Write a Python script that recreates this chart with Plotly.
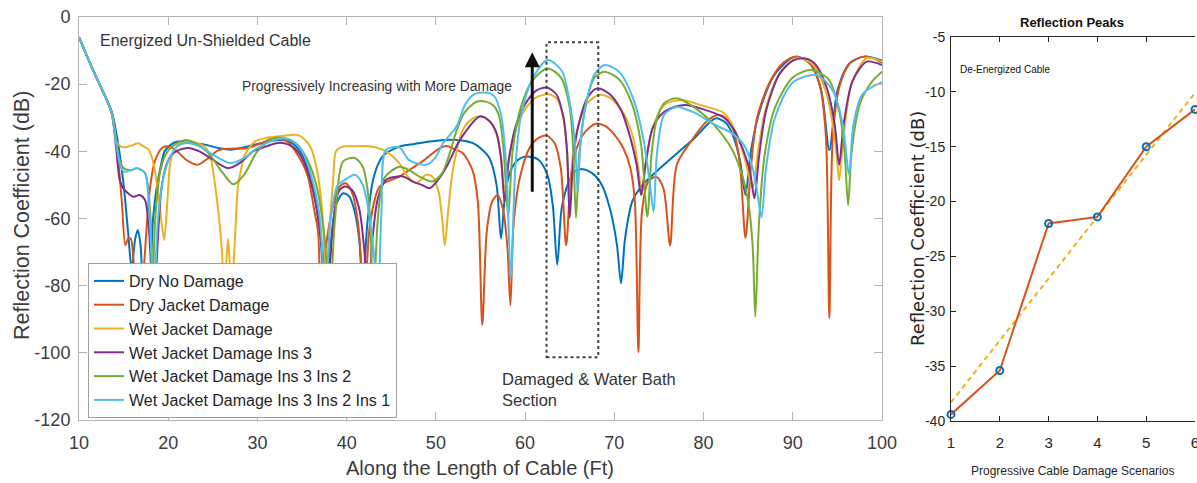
import plotly.graph_objects as go

# ---------------- Reflection coefficient along the cable (dB) ----------------
dry_no_damage_x = [10, 11, 12, 13, 13.7, 14.4, 15, 15.5, 15.9, 16.3, 16.6, 16.9, 17.3, 17.8, 18.3, 18.7,
                   19.2, 19.6, 20.3, 21.1, 22.5, 24.1, 25.6, 27, 28.2, 30.5, 32.3, 33.5, 34.5, 35.5, 36.3,
                   37, 37.6, 38.2, 38.8, 39.6, 40.3, 40.9, 41.4, 41.8, 42.3, 43, 44, 45.9, 47.6, 49.6,
                   52.3, 54.1, 55.2, 56, 56.8, 57.3, 57.8, 58.5, 59.5, 60.5, 61.5, 62.5, 63.1, 63.6, 64.1,
                   64.9, 65.6, 66.4, 67.5, 68.6, 69.6, 70.3, 70.75, 71.2, 72, 73, 76.2, 79, 81.3, 82.5,
                   83.4, 84.1, 84.7, 85.3, 86.4, 88, 90.3, 92, 93.2, 94.1, 95, 96.3, 98, 100]
dry_no_damage_y = [-6, -12.3, -18.3, -24, -28.5, -38, -50, -64, -75, -66, -63.4, -68, -82, -80, -60, -51,
                   -44, -40, -38, -37.1, -37.5, -38, -39, -39.5, -39, -37.5, -36.6, -37, -39, -44, -52,
                   -64, -82, -68, -56, -52.5, -53.5, -58, -66, -82, -62, -48, -41.6, -38.6, -37.8, -37,
                   -36.6, -37.5, -39.5, -42, -50, -66, -52, -45, -42, -41.6, -42.5, -47, -56, -73.8, -57,
                   -49, -46, -45.3, -46.5, -50, -58, -68, -79.3, -66, -55, -50.5, -42.5, -36, -30.2, -31.5,
                   -36, -43, -53, -40, -27, -17, -11.8, -14, -22, -39.6, -22, -14, -11.8, -13]

dry_jacket_x = [10, 11, 12, 13, 13.7, 14.3, 14.8, 15.2, 15.5, 15.8, 16.1, 16.6, 17.1, 17.6, 18, 18.5,
                19.3, 20, 21, 22, 23.3, 24.5, 25.6, 27, 28.9, 30.5, 31.9, 33.4, 34.5, 35.6, 36.4, 36.8,
                37.1, 37.6, 38.4, 39.2, 39.9, 40.7, 41.3, 42, 42.6, 43.7, 45.9, 47, 48.5, 50.4, 51.2,
                52.2, 53, 54.1, 54.7, 55.2, 55.7, 56.3, 56.9, 57.5, 58, 58.35, 58.7, 59.4, 60.5, 61.5,
                62.4, 63.3, 64, 64.6, 65.2, 66, 66.8, 68, 69, 70, 71, 71.8, 72.3, 72.7, 73.1, 73.8,
                74.7, 75.5, 76.25, 77, 78.6, 80.4, 81.5, 82.3, 83.1, 84, 84.7, 85.3, 86, 87.5, 89,
                90.3, 91.8, 93, 93.7, 94.1, 94.5, 95.3, 96.5, 98, 99, 100]
dry_jacket_y = [-6, -12.3, -18.3, -24, -28.5, -40, -55, -68, -66, -66, -72, -88, -80, -62, -50, -43,
                -39, -38.5, -40, -42.5, -44, -42, -39.7, -39.2, -39, -37.5, -36, -37.2, -41, -47, -58, -64,
                -85, -70, -57, -50.5, -49.5, -53, -62, -85, -62, -50.5, -47.5, -45.6, -43, -39.1, -38.4,
                -39.5, -40.5, -45.6, -55, -91.7, -64, -55, -53, -57, -68, -85.8, -62, -48, -39, -36,
                -35.3, -37.5, -45, -68, -46, -37.5, -34, -31.7, -32.5, -35, -39, -45, -55, -99.8, -58, -49,
                -47.6, -51, -68, -44, -37, -31, -29.2, -29.7, -32, -42, -65.8, -45, -30, -19, -13.5,
                -11.8, -13.5, -20, -35, -89.6, -35, -20, -13.5, -11.8, -12.3, -13.7]

wet_jacket_x = [10, 11, 12, 13, 13.7, 14.2, 14.7, 15.15, 16, 16.6, 17.2, 17.8, 18.3, 18.7, 19.2, 19.55,
                19.9, 20.2, 20.6, 21.1, 22.2, 23.2, 24.1, 24.7, 25.2, 25.7, 26, 26.3, 26.7, 27.1, 27.5,
                27.8, 28.2, 28.6, 29.7, 31, 32.5, 33.5, 34.5, 35.3, 36, 36.7, 37.3, 37.7, 38.1, 38.5,
                38.8, 39.5, 40.5, 42.2, 43.2, 44.4, 45.9, 46.7, 47.8, 48.9, 49.6, 50.3, 50.7, 51.0,
                51.4, 51.9, 53, 54, 55, 56, 56.8, 57.3, 57.7, 58.2, 59, 60, 61.2, 62.6, 63.6, 64.3,
                64.7, 65, 65.4, 66, 67, 68.3, 69.5, 71, 72, 72.7, 73.1, 73.5, 74.3, 75.6, 77.5, 80,
                82.3, 83.4, 84.5, 85.5, 86.1, 87, 88.5, 90.5, 92.2, 93.8, 94.8, 95.2, 95.6, 96.6, 98.3, 100]
wet_jacket_y = [-6, -12.3, -18.3, -24, -29, -37.1, -38.6, -38.8, -38.2, -37.6, -38.5, -39.5, -43, -49, -60, -66.4,
                -55, -44, -40, -38.1, -37.1, -37.5, -38.6, -41.5, -49, -60, -69, -82, -66, -82, -65,
                -51, -45, -41, -37.1, -36, -35.5, -35.2, -35.1, -36.5, -39, -46, -59, -82, -62, -48,
                -40, -38.6, -38.5, -38.4, -38.8, -40, -43.5, -47, -49.5, -47, -47.5, -52, -60, -68,
                -57, -45.6, -33.7, -30.5, -29.5, -31, -35, -42, -52, -42, -33, -27.5, -24, -23, -24.5, -30,
                -40, -55, -40, -32, -25.5, -23.2, -24, -28.5, -35, -45, -53, -44, -33, -26.2, -24.7, -26.5,
                -28.6, -33, -41, -51, -40, -27, -17, -12.2, -14, -23, -38, -48.6, -38, -20, -12.2, -13.3]

wet_ins3_x = [10, 11, 12, 13, 13.7, 14.2, 14.6, 15.1, 16.1, 16.8, 17.4, 17.8, 18.1, 18.4, 18.8, 19.2,
              19.8, 20.4, 21.3, 22.2, 23.5, 25, 26.7, 28, 29.5, 30.5, 32.3, 33.5, 34.5, 35.5, 36.5,
              37.2, 37.8, 38.4, 39.1, 39.8, 40.6, 41.4, 42, 42.4, 42.9, 43.5, 44.4, 46.3, 47.4, 48.4,
              49.3, 50.1, 51.2, 52.7, 54.9, 56, 56.8, 57.3, 57.7, 58.2, 59, 60, 61.2, 62.4, 63.5, 64.3,
              64.7, 65, 65.4, 66, 67, 68.1, 69.5, 70.8, 71.8, 72.5, 73, 73.5, 74.3, 75.6, 77.8, 80,
              82.3, 83.5, 84.5, 85.2, 85.7, 86.2, 87, 88.5, 90, 91.3, 92.5, 93.8, 94.7, 95.2, 95.7,
              96.7, 98.3, 100]
wet_ins3_y = [-6, -12.3, -18.3, -24, -29, -40, -49, -51.5, -53.5, -53, -54.5, -62, -75, -85, -68, -52,
              -44, -41, -39.5, -39, -40, -42.5, -45, -43.5, -40, -39, -37.5, -38, -40, -45, -55,
              -68, -85, -64, -52, -50.5, -51.5, -57, -70, -85, -66, -54, -48.5, -47.5, -49, -50,
              -51, -49, -44.6, -36.6, -29.7, -31, -34.6, -42, -55, -42, -32, -26, -22, -21, -23, -30,
              -40, -59.8, -42, -32, -24, -21.2, -23, -28, -36, -44, -53, -44, -33, -28.2, -26.2, -27.5,
              -30, -34, -40, -46, -54, -42, -28, -17, -13, -12.3, -14, -21, -32, -44, -32,
              -19, -13.3, -14.3]

wet_ins32_x = [10, 11, 12, 13, 13.7, 14.2, 14.6, 15, 15.9, 16.5, 17.4, 17.7, 18, 18.25, 18.5, 18.8,
               19.1, 19.7, 20.4, 21.9, 23, 24.5, 26, 27.3, 28.5, 30, 31.9, 33.5, 34.5, 35.5, 36.6,
               37.5, 38.1, 38.7, 39.6, 40.9, 41.8, 42.5, 43, 43.5, 44.2, 45.9, 47, 48.2, 49.6, 50.7,
               51.5, 52.3, 53.2, 54.5, 55.6, 56.5, 57.1, 57.6, 58.1, 58.6, 59.5, 60.8, 62.5, 64, 65,
               65.4, 65.7, 66.1, 66.8, 67.8, 68.9, 70.5, 72, 73, 73.7, 74.2, 74.8, 75.6, 77, 79, 81.2,
               83.1, 84.2, 85, 85.5, 85.8, 86.2, 86.8, 88, 90, 92, 94, 95.2, 95.8, 96.2, 96.6, 97.5,
               98.8, 100]
wet_ins32_y = [-6, -12.3, -18.3, -24, -29, -38, -43, -45, -45.6, -45, -46.5, -50, -59, -80, -62, -52,
               -46, -41, -38.6, -36.6, -37.5, -40.5, -46, -49.8, -47, -40, -36, -36.5, -38, -42, -50,
               -65, -85, -60, -43, -42, -44.6, -55, -85, -60, -48, -44.6, -45.6, -47.6, -49, -46.5,
               -41, -34, -28.5, -25.3, -25.2, -26.5, -29.7, -40, -59.5, -40, -27, -19, -15.3, -18, -27,
               -40, -59.8, -40, -26, -18, -16.3, -18.5, -26, -38, -59.5, -40, -30, -25.6, -24.2, -27, -32.2,
               -39, -46, -55, -68, -89.2, -62, -42, -27, -18, -15.8, -18.5, -28, -40, -56, -40, -26,
               -19.5, -16.3]

wet_ins321_x = [10, 11, 12, 13, 13.7, 14.2, 14.6, 15, 15.9, 16.5, 17.4, 17.8, 18.1, 18.4, 18.8, 19.3,
                20, 21, 22, 23.5, 25, 26.9, 28.5, 30, 31.5, 33, 34, 35, 36, 37, 37.6, 38.2, 39, 39.8,
                40.9, 41.8, 42.6, 43.1, 43.5, 43.9, 44.4, 45.9, 47, 48.9, 49.9, 50.8, 52.3, 53.3, 54.3,
                55.6, 56.5, 57.3, 57.9, 58.4, 58.9, 59.5, 60.8, 62.5, 64.1, 65.1, 65.6, 65.9, 66.2, 66.9,
                67.8, 68.9, 70.6, 72.2, 73.3, 74, 74.4, 74.8, 75.6, 77, 79, 81.2, 83.1, 84.5, 85.5, 86,
                86.5, 87, 88, 90, 92.7, 94.5, 95.6, 96.3, 96.8, 97.8, 100]
wet_ins321_y = [-6, -12.3, -18.3, -24, -29, -38, -44, -46, -45.6, -45, -46.5, -55, -70, -85, -62, -50,
                -43, -38.5, -37.5, -38.5, -41, -43.5, -42, -39, -37, -36, -37, -40, -47, -60, -85, -60, -50, -48.5,
                -47, -50, -60, -72, -85, -58, -39.6, -38.8, -42.6, -44, -42, -37.6, -32.7, -26, -23,
                -22.5, -23.5, -29, -45, -77.7, -45, -30, -18.5, -12.8, -16, -27, -38, -52, -38, -25,
                -17, -14.3, -16.5, -25, -37, -50, -58, -40, -29, -26.8, -28.5, -32, -34.5, -38, -45, -52,
                -59.6, -45, -30, -19.5, -17.3, -22, -32, -47, -32, -23, -19.4]

series_names = ["Dry No Damage", "Dry Jacket Damage", "Wet Jacket Damage",
                "Wet Jacket Damage Ins 3", "Wet Jacket Damage Ins 3 Ins 2",
                "Wet Jacket Damage Ins 3 Ins 2 Ins 1"]
series_x = [dry_no_damage_x, dry_jacket_x, wet_jacket_x, wet_ins3_x, wet_ins32_x, wet_ins321_x]
series_y = [dry_no_damage_y, dry_jacket_y, wet_jacket_y, wet_ins3_y, wet_ins32_y, wet_ins321_y]
series_colors = ["#0072BD", "#D95319", "#EDB120", "#7E2F8E", "#77AC30", "#4DBEEE"]

x_ticks = [10, 20, 30, 40, 50, 60, 70, 80, 90, 100]
y_ticks = [0, -20, -40, -60, -80, -100, -120]
y_tick_text = ["0", "-20", "-40", "-60", "-80", "-100", "-120"]

# ---------------- Reflection peaks per damage scenario ----------------
scenarios = [1, 2, 3, 4, 5, 6]
peak_db = [-39.4, -35.4, -22.0, -21.4, -15.0, -11.6]
trend_x = [1, 6]
trend_y = [-38.3, -10.1]
peak_y_ticks = [-5, -10, -15, -20, -25, -30, -35, -40]
peak_y_text = ["-5", "-10", "-15", "-20", "-25", "-30", "-35", "-40"]

W, H = 1197, 483
# plot-area edges in pixels
L1, R1, T1, B1 = 79, 882, 17, 420
L2, R2, T2, B2 = 951, 1195, 37, 421

def px(v):
    return v / W

def py(v):
    return 1 - v / H

FONT = "Liberation Sans, Arial, Helvetica, sans-serif"
WIDE = "DejaVu Sans, Verdana, sans-serif"
TEXT = "#3c3c3c"
DARK = "#262626"

fig = go.Figure()

for name, xs, ys, col in zip(series_names, series_x, series_y, series_colors):
    fig.add_trace(go.Scatter(
        x=xs, y=ys, name=name, mode="lines",
        line=dict(color=col, width=2, shape="spline", smoothing=0.8),
        xaxis="x", yaxis="y",
    ))

fig.add_trace(go.Scatter(
    x=trend_x, y=trend_y, mode="lines", showlegend=False,
    line=dict(color="#EDB120", width=2, dash="5px,4px"),
    xaxis="x2", yaxis="y2",
))
fig.add_trace(go.Scatter(
    x=scenarios, y=peak_db, mode="lines", showlegend=False,
    line=dict(color="#D95319", width=2),
    xaxis="x2", yaxis="y2",
))
fig.add_trace(go.Scatter(
    x=scenarios, y=peak_db, mode="markers", showlegend=False,
    marker=dict(symbol="circle-open", size=7, color="#0072BD", line=dict(width=2, color="#0072BD")),
    xaxis="x2", yaxis="y2", cliponaxis=False,
))

box_gray = "#b4b4b4"
fig.update_layout(
    width=W, height=H,
    margin=dict(l=0, r=0, t=0, b=0, autoexpand=False),
    paper_bgcolor="white", plot_bgcolor="white",
    font=dict(family=FONT, color=TEXT),
    xaxis=dict(
        domain=[px(L1), px(R1)], range=[10, 100], tickvals=x_ticks, automargin=False,
        ticks="inside", ticklen=8, tickcolor=box_gray, showline=True, linecolor=box_gray,
        linewidth=1, mirror="ticks", showgrid=False, zeroline=False,
        tickfont=dict(size=18, color=TEXT), ticklabelstandoff=6,
    ),
    yaxis=dict(
        domain=[py(B1), py(T1)], range=[-120, 0], tickvals=y_ticks, ticktext=y_tick_text,
        automargin=False,
        ticks="inside", ticklen=8, tickcolor=box_gray, showline=True, linecolor=box_gray,
        linewidth=1, mirror="ticks", showgrid=False, zeroline=False,
        tickfont=dict(size=18, color=TEXT), ticklabelstandoff=4,
    ),
    xaxis2=dict(
        domain=[px(L2), px(R2)], range=[1, 6], tickvals=scenarios, anchor="y2", automargin=False,
        ticks="inside", ticklen=5, tickcolor=DARK, showline=True, linecolor=DARK,
        linewidth=1, mirror="ticks", showgrid=False, zeroline=False, ticklabeloverflow="allow",
        tickfont=dict(size=15, color=DARK), ticklabelstandoff=8,
    ),
    yaxis2=dict(
        domain=[py(B2), py(T2)], range=[-40, -5], tickvals=peak_y_ticks, ticktext=peak_y_text,
        anchor="x2", automargin=False, ticks="inside", ticklen=5, tickcolor=DARK, showline=True,
        linecolor=DARK, linewidth=1, showgrid=False, zeroline=False,
        tickfont=dict(size=14, color=DARK), ticklabelstandoff=2,
    ),
    legend=dict(
        x=px(88), y=py(263), xanchor="left", yanchor="top",
        bgcolor="white", bordercolor="#a0a0a0", borderwidth=1,
        font=dict(size=16, color=DARK), itemwidth=30, tracegroupgap=0,
    ),
    showlegend=True,
)

# arrow marking the rising peaks
fig.add_annotation(
    x=60.8, y=-10.5, ax=60.8, ay=-52.5, xref="x", yref="y", axref="x", ayref="y",
    text="", showarrow=True, arrowhead=2, arrowsize=1, arrowwidth=3, arrowcolor="#111111",
)
# damaged / water-bath section outline
fig.add_shape(type="rect", xref="x", yref="y", x0=62.4, x1=68.2, y0=-101.3, y1=-7.5,
              line=dict(color="#404040", width=2, dash="dot"), layer="above")

annots = [
    dict(x=12.1, y=-6.9, text="Energized Un-Shielded Cable", size=16),
    dict(x=28.0, y=-20.8, text="Progressively Increasing with More Damage", size=13.8),
    dict(x=57.2, y=-110.8, text="Damaged & Water Bath<br>Section", size=16.5),
]
for a in annots:
    fig.add_annotation(x=a["x"], y=a["y"], xref="x", yref="y", text=a["text"],
                       showarrow=False, xanchor="left", yanchor="middle", align="left",
                       font=dict(size=a["size"], color="#333333", family=FONT))

# axis titles and panel labels
labels = [
    dict(x=480, y=468, text="Along the Length of Cable (Ft)", size=20, angle=0,
         anchor="center", family=FONT, color=TEXT),
    dict(x=22, y=216, text="Reflection Coefficient (dB)", size=21.5, angle=-90,
         anchor="center", family=FONT, color=TEXT),
    dict(x=1072, y=22, text="<b>Reflection Peaks</b>", size=13, angle=0,
         anchor="center", family=FONT, color="#111111"),
    dict(x=958, y=70, text="De-Energized Cable", size=10, angle=0,
         anchor="left", family=FONT, color="#111111"),
    dict(x=1072, y=471, text="Progressive Cable Damage Scenarios", size=12, angle=0,
         anchor="center", family=FONT, color=DARK),
    dict(x=917, y=229, text="Reflection Coefficient (dB)", size=18, angle=-90,
         anchor="center", family=WIDE, color=DARK),
]
for lb in labels:
    fig.add_annotation(x=px(lb["x"]), y=py(lb["y"]), xref="paper", yref="paper", showarrow=False,
                       xanchor=lb["anchor"], yanchor="middle", textangle=lb["angle"], text=lb["text"],
                       font=dict(size=lb["size"], family=lb["family"], color=lb["color"]))

fig.write_html("out.html")
